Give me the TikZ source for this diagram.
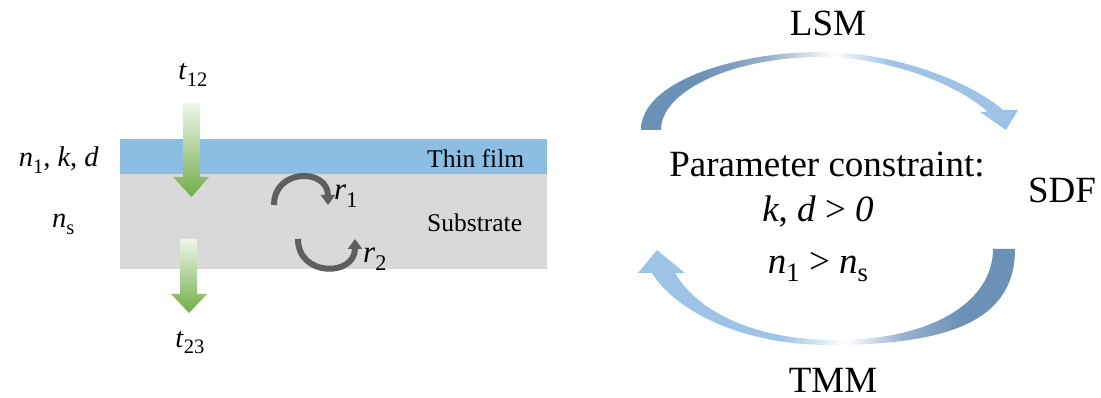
\documentclass[tikz,border=0pt]{standalone}
\usepackage{fontspec}
\setmainfont{Liberation Serif}
\usetikzlibrary{arrows.meta}

\definecolor{filmblue}{RGB}{139,190,226}
\definecolor{subgray}{RGB}{217,217,217}
\definecolor{leafgreen}{RGB}{112,173,71}
\definecolor{palegreen}{RGB}{238,246,233}
\definecolor{loopgray}{RGB}{95,95,95}
\definecolor{banddark}{RGB}{108,145,183}
\definecolor{bandlight}{RGB}{157,195,230}

% lowered, reduced index in text
\newcommand{\lowidx}[1]{\raisebox{-0.24em}{\scalebox{0.72}{#1}}}

% gradient bands of the two curved arrows (path spans 25bp..75bp)
\pgfdeclarehorizontalshading{lsmband}{100bp}{color(0bp)=(banddark); color(25bp)=(banddark); color(33bp)=(banddark); color(42bp)=(banddark!70!white); color(50.5bp)=(white); color(58bp)=(bandlight); color(100bp)=(bandlight)}
\pgfdeclarehorizontalshading{tmmband}{100bp}{color(0bp)=(bandlight); color(44bp)=(bandlight); color(52.5bp)=(white); color(60bp)=(banddark!70!white); color(68bp)=(banddark); color(100bp)=(banddark)}

\tikzset{
  lefttxt/.style={inner sep=0pt, font=\fontsize{25.5}{30}\selectfont},
  symtxt/.style={inner sep=0pt, font=\fontsize{28.5}{32}\selectfont},
  righttxt/.style={inner sep=0pt, font=\fontsize{37}{44}\selectfont},
  rtxt/.style={inner sep=0pt, font=\fontsize{31}{36}\selectfont},
  greenarrow/.style={top color=palegreen, bottom color=leafgreen, draw=none},
  looparrow/.style={draw=loopgray, line width=6pt,
    -{Triangle[width=14pt,length=10pt]}},
}

\begin{document}
\begin{tikzpicture}[x=1pt,y=-1pt]
\useasboundingbox (0,0) rectangle (1101,398);
\fill[white] (0,0) rectangle (1101,398);

% layer stack
\fill[filmblue] (120,139) rectangle (547,174);
\fill[subgray] (120,174) rectangle (547,269);

% transmitted light
\path[greenarrow] (183,103) -- (200,103) -- (200,177) -- (209,177) -- (191.5,197)
  -- (173,177) -- (183,177) -- cycle;
\path[greenarrow] (180,239) -- (197,239) -- (197,294) -- (207,294) -- (189,313)
  -- (171,294) -- (180,294) -- cycle;

% internal reflections
\coordinate (r1a) at (274,205);
\coordinate (r1b) at (328,205);
\coordinate (r2a) at (298,239);
\coordinate (r2b) at (355,239);
\draw[looparrow] (r1a) .. controls (274,168) and (328,168) .. (r1b);
\draw[looparrow] (r2a) .. controls (298,277) and (355,277) .. (r2b);

% labels of the layer stack
\node[symtxt, anchor=base east] (nkd) at (99,167) {\textit{n}\lowidx{1}, \textit{k}, \textit{d}};
\node[symtxt, anchor=base west] (ns) at (52,228) {\textit{n}\lowidx{s}};
\node[lefttxt, anchor=base west] (film) at (427,168) {Thin film};
\node[lefttxt, anchor=base west] (sub) at (427,232) {Substrate};
\node[symtxt, anchor=base] (t12) at (193,80) {\textit{t}\lowidx{12}};
\node[symtxt, anchor=base] (t23) at (190,347) {\textit{t}\lowidx{23}};
\node[rtxt, anchor=base west] (r1) at (334,200) {\textit{r}\lowidx{1}};
\node[rtxt, anchor=base west] (r2) at (363,263) {\textit{r}\lowidx{2}};

% LSM arrow (top)
\shade[shading=lsmband] (641,130) .. controls (641,80) and (740,52) .. (820,52)
  .. controls (900,52) and (975,85) .. (1003,110) -- (1018,110) -- (1006,130)
  -- (980,112) -- (988,112) .. controls (962,88) and (895,57) .. (820,57)
  .. controls (735,57) and (661,90) .. (661,130) -- cycle;
% TMM arrow (bottom)
\shade[shading=tmmband] (1015,249) .. controls (1015,315) and (960,345) .. (830,345)
  .. controls (740,345) and (675,310) .. (652,273) -- (638,273) -- (657,250)
  -- (685,273) -- (675,273) .. controls (700,315) and (760,340) .. (835,340)
  .. controls (935,340) and (993,300) .. (993,249) -- cycle;

% cycle labels
\node[righttxt, anchor=base] (lsm) at (828,36) {LSM};
\node[righttxt, anchor=base] (sdf) at (1062,203) {SDF};
\node[righttxt, anchor=base] (tmm) at (833,392) {TMM};
\node[righttxt, anchor=base] (pc) at (827,177) {Parameter constraint:};
\node[righttxt, anchor=base] (kd) at (818,222) {\textit{k}, \textit{d} > \textit{0}};
\node[righttxt, anchor=base] (nn) at (818,273) {\textit{n}\lowidx{1} > \textit{n}\lowidx{s}};
\end{tikzpicture}
\end{document}
